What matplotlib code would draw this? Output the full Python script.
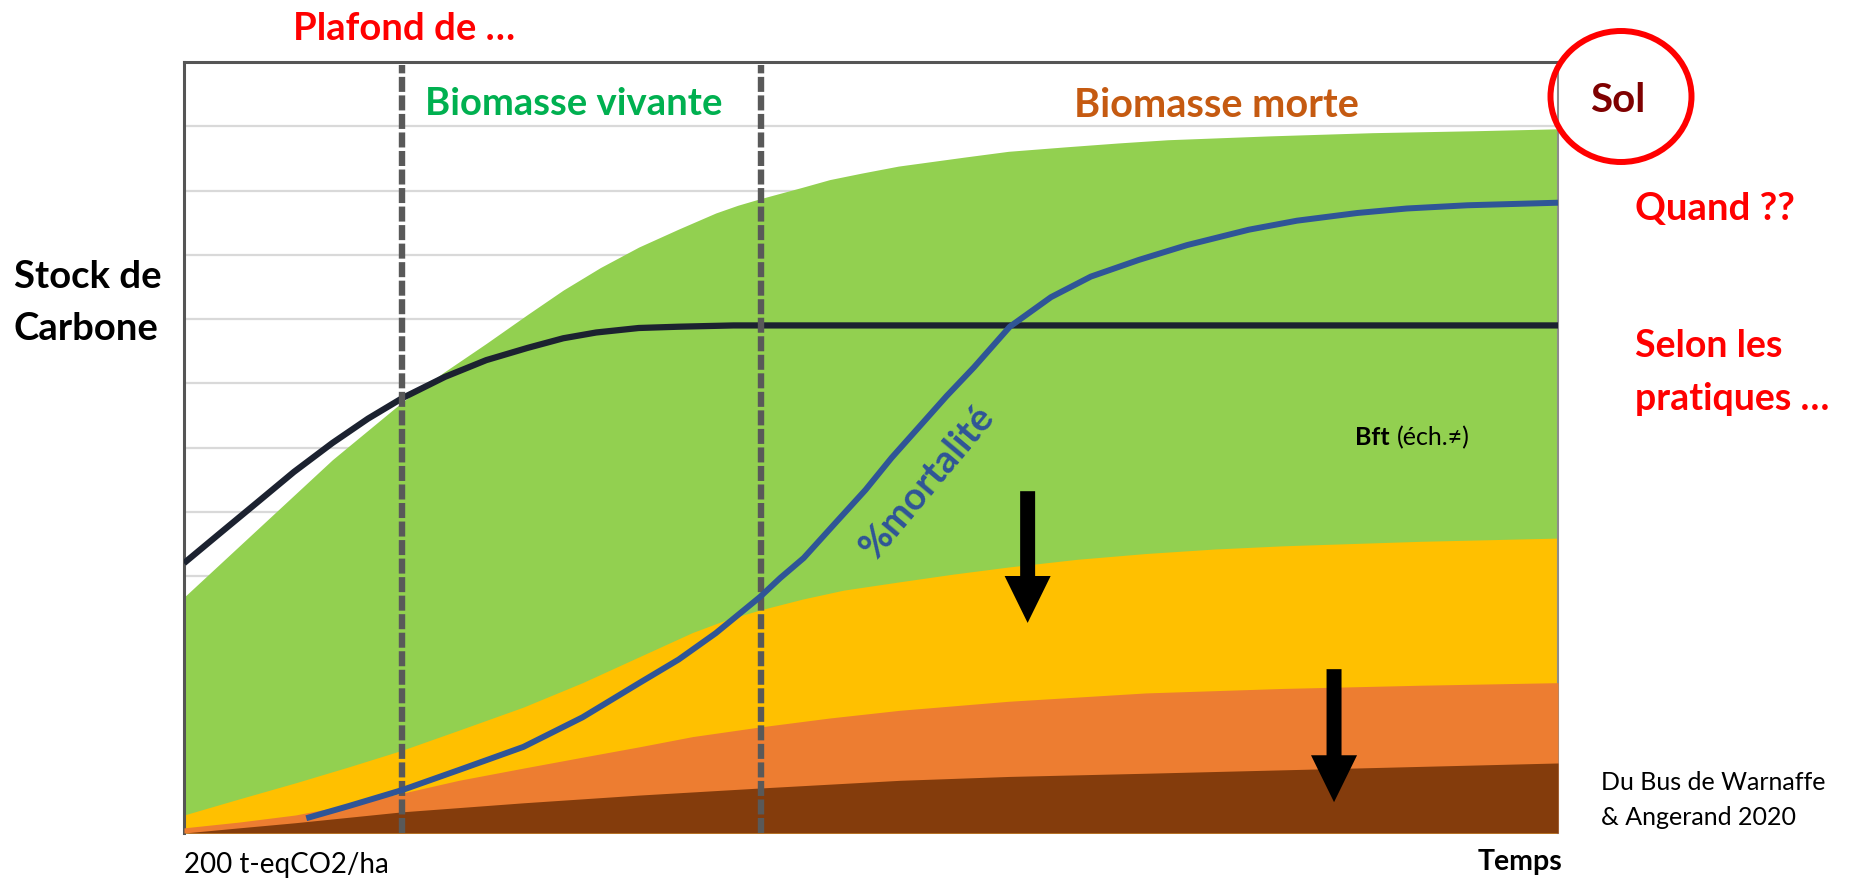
import matplotlib
matplotlib.use('Agg')
import matplotlib.pyplot as plt
from matplotlib.patches import Ellipse

# ── Data (x: time 0-100, y: carbon stock in grid units 0-12) ──────────────────
green_x = [0, 5.3, 10.8, 15.9, 18.9, 22.0, 25, 27.6, 30.3, 33.1, 36, 38.7, 40.3,
           41.9, 45, 47, 49.3, 52, 56.8, 60, 64.2, 68, 71.6, 79.0, 86.5, 93.9, 100]
green_y = [3.67, 4.72, 5.81, 6.71, 7.17, 7.62, 8.07, 8.45, 8.80, 9.12, 9.40,
           9.65, 9.77, 9.87, 10.05, 10.17, 10.27, 10.38, 10.52, 10.61, 10.68,
           10.74, 10.79, 10.85, 10.90, 10.93, 10.96]

yellow_x = [0, 4, 8.1, 12, 15.9, 20, 24.7, 29, 33.1, 37, 39.5, 41.9, 45, 48,
            52.1, 56, 60, 65, 70, 75, 80, 90, 100]
yellow_y = [0.28, 0.53, 0.78, 1.03, 1.29, 1.60, 1.96, 2.34, 2.74, 3.12, 3.32,
            3.47, 3.64, 3.78, 3.91, 4.03, 4.14, 4.26, 4.35, 4.42, 4.47, 4.54,
            4.59]

orange_x = [0, 4, 8.1, 12, 15.9, 20, 24.7, 29, 33.1, 37, 41.9, 47, 52.1, 60, 70,
            80, 90, 100]
orange_y = [0.08, 0.17, 0.28, 0.44, 0.62, 0.82, 1.01, 1.18, 1.34, 1.50, 1.65,
            1.79, 1.91, 2.05, 2.18, 2.25, 2.30, 2.34]

brown_x = [0, 4, 8.1, 15.9, 24.7, 33.1, 41.9, 52.1, 60, 70, 85, 100]
brown_y = [0.0, 0.08, 0.16, 0.33, 0.47, 0.59, 0.70, 0.82, 0.88, 0.93, 1.01, 1.09]

black_x = [0, 2.7, 5.3, 8.0, 10.8, 13.4, 15.9, 19, 22.0, 25, 27.6, 30, 33.1,
           36, 40, 100]
black_y = [4.2, 4.68, 5.14, 5.62, 6.07, 6.45, 6.77, 7.10, 7.36, 7.55, 7.70,
           7.79, 7.86, 7.88, 7.90, 7.90]

mort_x = [8.9, 12, 15.9, 20, 24.7, 29, 33.1, 36, 38.7, 41.9, 43.4, 45.1, 47.3,
          49.6, 51.5, 53.5, 55.5, 57.5, 60.1, 63.1, 66, 69.5, 73, 77.5, 81,
          85.4, 89, 93.4, 100]
mort_y = [0.23, 0.42, 0.67, 0.98, 1.34, 1.80, 2.33, 2.70, 3.11, 3.67, 3.97,
          4.28, 4.80, 5.34, 5.84, 6.32, 6.80, 7.25, 7.88, 8.34, 8.66, 8.92,
          9.15, 9.39, 9.53, 9.65, 9.72, 9.77, 9.81]

phase_x = [15.9, 42.0]

# arrows: x, top, tip
arrows = [(61.4, 5.32, 3.27), (83.7, 2.55, 0.48)]

# ── Figure ────────────────────────────────────────────────────────────────────
W, H = 1856, 880
fig = plt.figure(figsize=(W / 100, H / 100), dpi=100)
ax = fig.add_axes([184 / W, 1 - 833 / H, (1558 - 184) / W, (833 - 62) / H])

FONT = ['Lato', 'DejaVu Sans']

ax.set_xlim(0, 100)
ax.set_ylim(0, 12)
ax.set_yticks(range(1, 12))
ax.set_xticks([])
ax.tick_params(left=False, labelleft=False)
ax.grid(axis='y', color='#d9d9d9', lw=1.6, zorder=0)
ax.set_axisbelow(True)

for s in ['top', 'left']:
    ax.spines[s].set_color('#555555')
    ax.spines[s].set_linewidth(2.2)
ax.spines['right'].set_color('#8c8c8c')
ax.spines['right'].set_linewidth(1.5)
ax.spines['bottom'].set_visible(False)

ax.fill_between(green_x, 0, green_y, color='#92d050', lw=0, zorder=1)
ax.fill_between(yellow_x, 0, yellow_y, color='#ffc000', lw=0, zorder=2)
ax.fill_between(orange_x, 0, orange_y, color='#ed7d31', lw=0, zorder=3)
ax.fill_between(brown_x, 0, brown_y, color='#843c0c', lw=0, zorder=4)

ax.plot(black_x, black_y, color='#1c2230', lw=4.5, zorder=5,
        solid_capstyle='butt', solid_joinstyle='round')

for xv in phase_x:
    ax.plot([xv, xv], [0, 11.96], color='#595959', lw=4.6,
            linestyle=(0, (2.35, 0.55)), dash_capstyle='butt', zorder=6)

ax.plot(mort_x, mort_y, color='#2f5597', lw=4.3, zorder=7,
        solid_capstyle='butt', solid_joinstyle='round')

for xa, top, tip in arrows:
    ax.arrow(xa, top, 0, tip - top, width=1.09, head_width=3.35, head_length=0.73,
             length_includes_head=True, color='black', lw=0, zorder=8)


def put(x, y, s, **kw):
    kw.setdefault('family', FONT)
    fig.text(x / W, 1 - y / H, s, va='baseline', **kw)


put(293, 40, 'Plafond de …', color='#ff0000', fontsize=27.5, fontweight='bold')
put(425, 115, 'Biomasse vivante', color='#00b050', fontsize=27.5, fontweight='bold')
put(1074, 117, 'Biomasse morte', color='#c55a11', fontsize=28.5, fontweight='bold')
put(1590, 112, 'Sol', color='#7f0000', fontsize=29, fontweight='bold')
put(1635, 220, 'Quand ??', color='#ff0000', fontsize=27.5, fontweight='bold')
put(1635, 357, 'Selon les', color='#ff0000', fontsize=27, fontweight='bold')
put(1635, 410, 'pratiques …', color='#ff0000', fontsize=27, fontweight='bold')
put(14, 288, 'Stock de', color='black', fontsize=27.5, fontweight='bold')
put(14, 340, 'Carbone', color='black', fontsize=27.5, fontweight='bold')
put(1355, 445, 'Bft', color='black', fontsize=18, fontweight='bold', zorder=10)
put(1397, 445, '(éch.≠)', color='black', fontsize=18, zorder=10)
put(184, 873, '200 t-eqCO2/ha', color='black', fontsize=20)
put(1562, 870, 'Temps', color='black', fontsize=20.5, fontweight='bold', ha='right')
put(1601, 790, 'Du Bus de Warnaffe', color='black', fontsize=18)
put(1601, 825, '& Angerand 2020', color='black', fontsize=18)

fig.text(927 / W, 1 - 482 / H, '%mortalité', color='#2f5597', fontsize=27.5,
         fontweight='bold', family=FONT, rotation=50, rotation_mode='anchor',
         ha='center', va='center', zorder=10)

fig.add_artist(Ellipse((1621 / W, 1 - 96.5 / H), 141 / W, 131 / H,
                       transform=fig.transFigure, fill=False, ec='#ff0000', lw=4.3))

fig.savefig('out.png', dpi=100, facecolor='white')
